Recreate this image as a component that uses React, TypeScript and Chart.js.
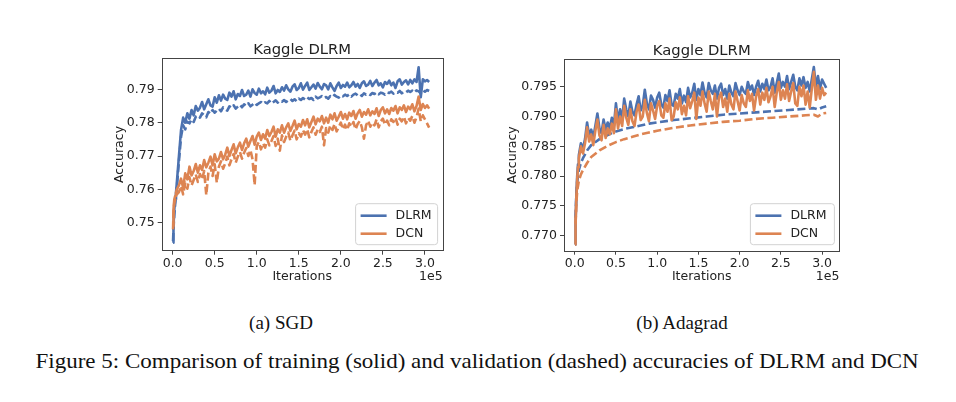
import { useEffect, useRef } from "react";
import { Chart, registerables } from "chart.js";
Chart.register(...registerables);

// Iterations, in units of 1e5
const X_DENSE = [
  0.005, 0.01, 0.02, 0.03, 0.04, 0.05,
  0.075, 0.1, 0.125, 0.15, 0.175, 0.2, 0.225, 0.25, 0.275, 0.3,
  0.325, 0.35, 0.375, 0.4, 0.425, 0.45, 0.475, 0.5, 0.525, 0.55,
  0.575, 0.6, 0.625, 0.65, 0.675, 0.7, 0.725, 0.75, 0.775, 0.8,
  0.825, 0.85, 0.875, 0.9, 0.925, 0.95, 0.975, 1.0, 1.025, 1.05,
  1.075, 1.1, 1.125, 1.15, 1.175, 1.2, 1.225, 1.25, 1.275, 1.3,
  1.325, 1.35, 1.375, 1.4, 1.425, 1.45, 1.475, 1.5, 1.525, 1.55,
  1.575, 1.6, 1.625, 1.65, 1.675, 1.7, 1.725, 1.75, 1.775, 1.8,
  1.825, 1.85, 1.875, 1.9, 1.925, 1.95, 1.975, 2.0, 2.025, 2.05,
  2.075, 2.1, 2.125, 2.15, 2.175, 2.2, 2.225, 2.25, 2.275, 2.3,
  2.325, 2.35, 2.375, 2.4, 2.425, 2.45, 2.475, 2.5, 2.525, 2.55,
  2.575, 2.6, 2.625, 2.65, 2.675, 2.7, 2.725, 2.75, 2.775, 2.8,
  2.825, 2.85, 2.875, 2.9, 2.925, 2.95, 2.975, 3.0, 3.025, 3.05,
];
const X_SPARSE = [
  0.01, 0.02, 0.03, 0.05, 0.075, 0.1, 0.15, 0.2, 0.3, 0.4, 0.5, 0.6, 0.7, 0.8, 0.9, 1.0,
  1.2, 1.4, 1.6, 1.8, 2.0, 2.2, 2.4, 2.6, 2.8, 2.9, 2.95, 3.0, 3.05,
];

// (a) SGD
const SGD_DLRM_TRAIN = [
  0.7440, 0.7490, 0.7540, 0.7570, 0.7590, 0.7620,
  0.7700, 0.7778, 0.7815, 0.7800, 0.7828, 0.7812, 0.7838, 0.7822, 0.7850, 0.7836,
  0.7845, 0.7862, 0.7840, 0.7855, 0.7870, 0.7852, 0.7848, 0.7876, 0.7860, 0.7882,
  0.7866, 0.7884, 0.7872, 0.7868, 0.7890, 0.7878, 0.7894, 0.7870, 0.7886, 0.7880,
  0.7898, 0.7880, 0.7884, 0.7896, 0.7878, 0.7900, 0.7889, 0.7884, 0.7902, 0.7888,
  0.7894, 0.7885, 0.7905, 0.7890, 0.7896, 0.7910, 0.7888, 0.7898, 0.7892, 0.7906,
  0.7896, 0.7912, 0.7900, 0.7893, 0.7908, 0.7915, 0.7898, 0.7904, 0.7918, 0.7899,
  0.7910, 0.7920, 0.7898, 0.7906, 0.7914, 0.7902, 0.7919, 0.7908, 0.7900, 0.7916,
  0.7912, 0.7900, 0.7918, 0.7906, 0.7895, 0.7910, 0.7920, 0.7904, 0.7913, 0.7908,
  0.7920, 0.7906, 0.7912, 0.7922, 0.7908, 0.7916, 0.7904, 0.7918, 0.7924, 0.7910,
  0.7914, 0.7925, 0.7910, 0.7920, 0.7928, 0.7912, 0.7918, 0.7906, 0.7922, 0.7916,
  0.7926, 0.7912, 0.7920, 0.7904, 0.7924, 0.7930, 0.7914, 0.7922, 0.7927, 0.7915,
  0.7928, 0.7918, 0.7930, 0.7922, 0.7966, 0.7876, 0.7930, 0.7924, 0.7928, 0.7922,
];
const SGD_DLRM_VAL = [
  0.7445, 0.7480, 0.7525, 0.7555, 0.7580, 0.7605,
  0.7685, 0.7758, 0.7792, 0.7780, 0.7803, 0.7798, 0.7810, 0.7802, 0.7818, 0.7822,
  0.7815, 0.7828, 0.7822, 0.7816, 0.7832, 0.7826, 0.7838, 0.7830, 0.7836, 0.7842,
  0.7834, 0.7846, 0.7840, 0.7836, 0.7849, 0.7844, 0.7852, 0.7842, 0.7848, 0.7854,
  0.7846, 0.7855, 0.7850, 0.7858, 0.7849, 0.7854, 0.7860, 0.7853, 0.7858, 0.7862,
  0.7856, 0.7861, 0.7858, 0.7865, 0.7857, 0.7862, 0.7867, 0.7860, 0.7866, 0.7863,
  0.7868, 0.7862, 0.7867, 0.7871, 0.7865, 0.7870, 0.7864, 0.7872, 0.7868, 0.7874,
  0.7869, 0.7876, 0.7871, 0.7874, 0.7868, 0.7878, 0.7873, 0.7876, 0.7880, 0.7874,
  0.7877, 0.7872, 0.7880, 0.7876, 0.7883, 0.7878, 0.7875, 0.7882, 0.7879, 0.7884,
  0.7880, 0.7885, 0.7878, 0.7884, 0.7887, 0.7882, 0.7886, 0.7880, 0.7888, 0.7884,
  0.7887, 0.7883, 0.7889, 0.7886, 0.7891, 0.7885, 0.7890, 0.7888, 0.7884, 0.7891,
  0.7889, 0.7893, 0.7887, 0.7892, 0.7890, 0.7895, 0.7888, 0.7893, 0.7891, 0.7896,
  0.7892, 0.7896, 0.7890, 0.7897, 0.7894, 0.7888, 0.7897, 0.7893, 0.7898, 0.7895,
];
const SGD_DCN_TRAIN = [
  0.7490, 0.7540, 0.7570, 0.7580, 0.7590, 0.7600,
  0.7612, 0.7632, 0.7605, 0.7648, 0.7630, 0.7668, 0.7642, 0.7655, 0.7676, 0.7650,
  0.7672, 0.7658, 0.7688, 0.7666, 0.7680, 0.7698, 0.7672, 0.7705, 0.7684, 0.7692,
  0.7712, 0.7690, 0.7704, 0.7725, 0.7700, 0.7718, 0.7735, 0.7708, 0.7726, 0.7740,
  0.7718, 0.7738, 0.7752, 0.7728, 0.7745, 0.7760, 0.7734, 0.7758, 0.7770, 0.7748,
  0.7765, 0.7752, 0.7778, 0.7760, 0.7772, 0.7788, 0.7758, 0.7780, 0.7770, 0.7792,
  0.7770, 0.7786, 0.7798, 0.7775, 0.7790, 0.7806, 0.7780, 0.7796, 0.7788, 0.7808,
  0.7792, 0.7810, 0.7786, 0.7802, 0.7818, 0.7795, 0.7812, 0.7804, 0.7820, 0.7798,
  0.7815, 0.7800, 0.7824, 0.7810, 0.7828, 0.7806, 0.7818, 0.7832, 0.7812, 0.7826,
  0.7810, 0.7830, 0.7820, 0.7835, 0.7812, 0.7828, 0.7838, 0.7818, 0.7832, 0.7824,
  0.7840, 0.7822, 0.7834, 0.7826, 0.7843, 0.7820, 0.7838, 0.7846, 0.7828, 0.7840,
  0.7826, 0.7844, 0.7836, 0.7850, 0.7828, 0.7846, 0.7838, 0.7852, 0.7832, 0.7848,
  0.7840, 0.7855, 0.7834, 0.7850, 0.7878, 0.7838, 0.7856, 0.7844, 0.7852, 0.7842,
];
const SGD_DCN_VAL = [
  0.7480, 0.7530, 0.7560, 0.7570, 0.7575, 0.7585,
  0.7592, 0.7610, 0.7585, 0.7620, 0.7602, 0.7636, 0.7612, 0.7628, 0.7645, 0.7622,
  0.7646, 0.7630, 0.7655, 0.7583, 0.7650, 0.7668, 0.7640, 0.7675, 0.7620, 0.7668,
  0.7684, 0.7662, 0.7678, 0.7698, 0.7672, 0.7690, 0.7706, 0.7680, 0.7698, 0.7712,
  0.7692, 0.7710, 0.7724, 0.7700, 0.7718, 0.7690, 0.7613, 0.7730, 0.7742, 0.7720,
  0.7738, 0.7725, 0.7750, 0.7732, 0.7745, 0.7760, 0.7730, 0.7752, 0.7716, 0.7762,
  0.7742, 0.7758, 0.7770, 0.7746, 0.7762, 0.7776, 0.7750, 0.7768, 0.7758, 0.7778,
  0.7764, 0.7780, 0.7756, 0.7772, 0.7786, 0.7764, 0.7780, 0.7772, 0.7788, 0.7732,
  0.7784, 0.7770, 0.7792, 0.7778, 0.7796, 0.7774, 0.7786, 0.7800, 0.7780, 0.7794,
  0.7778, 0.7798, 0.7788, 0.7802, 0.7780, 0.7796, 0.7805, 0.7786, 0.7752, 0.7792,
  0.7806, 0.7788, 0.7800, 0.7792, 0.7810, 0.7786, 0.7804, 0.7812, 0.7794, 0.7806,
  0.7792, 0.7810, 0.7802, 0.7815, 0.7794, 0.7812, 0.7804, 0.7818, 0.7798, 0.7814,
  0.7806, 0.7820, 0.7800, 0.7816, 0.7842, 0.7804, 0.7822, 0.7810, 0.7798, 0.7785,
];

// (b) Adagrad
const ADA_DLRM_TRAIN = [
  0.7685, 0.7720, 0.7770, 0.7800, 0.7820, 0.7835,
  0.7855, 0.7846, 0.7862, 0.7890, 0.7868, 0.7878, 0.7865, 0.7884, 0.7905, 0.7880,
  0.7872, 0.7895, 0.7878, 0.7890, 0.7880, 0.7898, 0.7884, 0.7922, 0.7892, 0.7912,
  0.7895, 0.7930, 0.7912, 0.7900, 0.7925, 0.7908, 0.7902, 0.7920, 0.7934, 0.7910,
  0.7918, 0.7945, 0.7922, 0.7912, 0.7935, 0.7928, 0.7915, 0.7932, 0.7940, 0.7920,
  0.7915, 0.7936, 0.7926, 0.7944, 0.7920, 0.7918, 0.7938, 0.7930, 0.7946, 0.7922,
  0.7935, 0.7924, 0.7948, 0.7932, 0.7940, 0.7955, 0.7928, 0.7946, 0.7936, 0.7957,
  0.7940, 0.7932, 0.7956, 0.7944, 0.7938, 0.7952, 0.7930, 0.7948, 0.7955, 0.7936,
  0.7946, 0.7930, 0.7952, 0.7940, 0.7934, 0.7956, 0.7944, 0.7936, 0.7950, 0.7942,
  0.7938, 0.7958, 0.7945, 0.7952, 0.7936, 0.7950, 0.7960, 0.7942, 0.7955, 0.7946,
  0.7962, 0.7944, 0.7950, 0.7964, 0.7940, 0.7956, 0.7972, 0.7948, 0.7958, 0.7950,
  0.7968, 0.7946, 0.7958, 0.7970, 0.7950, 0.7944, 0.7964, 0.7952, 0.7966, 0.7948,
  0.7958, 0.7942, 0.7962, 0.7983, 0.7950, 0.7968, 0.7946, 0.7962, 0.7955, 0.7948,
];
const ADA_DCN_TRAIN = [
  0.7685, 0.7715, 0.7765, 0.7795, 0.7815, 0.7830,
  0.7850, 0.7838, 0.7855, 0.7882, 0.7858, 0.7870, 0.7852, 0.7876, 0.7895, 0.7868,
  0.7860, 0.7886, 0.7864, 0.7880, 0.7870, 0.7888, 0.7872, 0.7912, 0.7880, 0.7900,
  0.7884, 0.7918, 0.7898, 0.7886, 0.7912, 0.7892, 0.7884, 0.7908, 0.7920, 0.7894,
  0.7900, 0.7928, 0.7906, 0.7892, 0.7922, 0.7910, 0.7896, 0.7918, 0.7926, 0.7902,
  0.7898, 0.7922, 0.7908, 0.7930, 0.7894, 0.7900, 0.7924, 0.7912, 0.7932, 0.7904,
  0.7918, 0.7902, 0.7934, 0.7914, 0.7926, 0.7940, 0.7896, 0.7932, 0.7918, 0.7942,
  0.7922, 0.7908, 0.7942, 0.7926, 0.7912, 0.7938, 0.7900, 0.7932, 0.7940, 0.7916,
  0.7930, 0.7908, 0.7938, 0.7920, 0.7912, 0.7942, 0.7926, 0.7910, 0.7936, 0.7922,
  0.7916, 0.7944, 0.7926, 0.7938, 0.7910, 0.7934, 0.7946, 0.7920, 0.7940, 0.7928,
  0.7948, 0.7924, 0.7934, 0.7950, 0.7916, 0.7940, 0.7958, 0.7928, 0.7944, 0.7930,
  0.7954, 0.7926, 0.7942, 0.7956, 0.7922, 0.7918, 0.7950, 0.7934, 0.7952, 0.7920,
  0.7942, 0.7915, 0.7946, 0.7975, 0.7928, 0.7952, 0.7930, 0.7948, 0.7936, 0.7940,
];
const ADA_DLRM_VAL = [
  0.7730, 0.7770, 0.7790, 0.7810, 0.7822, 0.7830, 0.7843, 0.7852, 0.7862, 0.7869,
  0.7875, 0.7879, 0.7882, 0.7885, 0.7888, 0.7890, 0.7894, 0.7897, 0.7900, 0.7903,
  0.7905, 0.7907, 0.7909, 0.7911, 0.7913, 0.7914, 0.7912, 0.7915, 0.7917,
];
const ADA_DCN_VAL = [
  0.7720, 0.7755, 0.7775, 0.7792, 0.7803, 0.7810, 0.7822, 0.7832, 0.7843, 0.7851,
  0.7857, 0.7862, 0.7866, 0.7870, 0.7873, 0.7876, 0.7881, 0.7885, 0.7888, 0.7891,
  0.7893, 0.7896, 0.7898, 0.7900, 0.7902, 0.7903, 0.7900, 0.7905, 0.7906,
];

const SERIES_NAMES = ["DLRM", "DCN"];
const PLOT_TITLE = "Kaggle DLRM";
const X_LABEL = "Iterations";
const X_OFFSET_LABEL = "1e5";
const Y_LABEL = "Accuracy";
const X_TICKS = [0, 0.5, 1.0, 1.5, 2.0, 2.5, 3.0];
const SGD_Y_TICKS = [0.75, 0.76, 0.77, 0.78, 0.79];
const ADA_Y_TICKS = [0.77, 0.775, 0.78, 0.785, 0.79, 0.795];
const SUB_CAPTIONS = ["(a) SGD", "(b) Adagrad"];
const FIG_CAPTION =
  "Figure 5: Comparison of training (solid) and validation (dashed) accuracies of DLRM and DCN";

const BLUE = "#4C72B0";
const ORANGE = "#DD8452";
const TEXT = "#222222";
const FONT = "DejaVu Sans";

function pts(xs: number[], ys: number[]) {
  const out: { x: number; y: number }[] = [];
  for (let i = 0; i < Math.min(xs.length, ys.length); i++) out.push({ x: xs[i], y: ys[i] });
  return out;
}

const decor = {
  id: "decor",
  afterDatasetsDraw(chart: any, _args: any, opts: any) {
    const { ctx, chartArea: a } = chart;
    ctx.save();
    ctx.strokeStyle = "#444";
    ctx.lineWidth = 1;
    ctx.strokeRect(Math.round(a.left) + 0.5, Math.round(a.top) + 0.5, Math.round(a.right - a.left), Math.round(a.bottom - a.top));
    ctx.fillStyle = TEXT;
    ctx.font = `14.8px "${FONT}"`;
    ctx.textAlign = "center";
    ctx.textBaseline = "alphabetic";
    ctx.fillText(PLOT_TITLE, (a.left + a.right) / 2, a.top - 4.5);
    ctx.font = `12.5px "${FONT}"`;
    ctx.textBaseline = "middle";
    ctx.fillText(X_LABEL, (a.left + a.right) / 2, a.bottom + 26);
    ctx.textAlign = "right";
    ctx.fillText(X_OFFSET_LABEL, a.right, a.bottom + 26);
    ctx.save();
    ctx.translate(a.left - opts.yLabelGap, (a.top + a.bottom) / 2);
    ctx.rotate(-Math.PI / 2);
    ctx.textAlign = "center";
    ctx.fillText(Y_LABEL, 0, 0);
    ctx.restore();
    const w = opts.legendW, h = 41;
    const lx = a.right - 5 - w, ly = a.bottom - 6 - h;
    ctx.beginPath();
    const r = 3;
    ctx.moveTo(lx + r, ly);
    ctx.arcTo(lx + w, ly, lx + w, ly + h, r);
    ctx.arcTo(lx + w, ly + h, lx, ly + h, r);
    ctx.arcTo(lx, ly + h, lx, ly, r);
    ctx.arcTo(lx, ly, lx + w, ly, r);
    ctx.closePath();
    ctx.fillStyle = "rgba(255,255,255,0.85)";
    ctx.fill();
    ctx.strokeStyle = "#d2d2d2";
    ctx.stroke();
    const colors = [BLUE, ORANGE];
    SERIES_NAMES.forEach((name, i) => {
      const yy = ly + 12 + i * 18;
      ctx.beginPath();
      ctx.strokeStyle = colors[i];
      ctx.lineWidth = 2.6;
      ctx.moveTo(lx + 5, yy);
      ctx.lineTo(lx + 31, yy);
      ctx.stroke();
      ctx.fillStyle = TEXT;
      ctx.textAlign = "left";
      ctx.textBaseline = "middle";
      ctx.font = `12.5px "${FONT}"`;
      ctx.fillText(name, lx + 40, yy);
    });
    ctx.restore();
  },
};

function makeConfig(opts: any): any {
  const tickFont = { family: FONT, size: 12.5 };
  const line = (data: any, color: string, dashed: boolean, order: number) => ({
    data,
    borderColor: color,
    backgroundColor: color,
    borderWidth: 2.6,
    borderDash: dashed ? [8, 3.5] : [],
    borderJoinStyle: "round",
    pointRadius: 0,
    tension: 0,
    fill: false,
    order,
  });
  return {
    type: "line",
    data: {
      datasets: [
        line(opts.trainOrange, ORANGE, false, 0),
        line(opts.valOrange, ORANGE, true, 1),
        line(opts.trainBlue, BLUE, false, 2),
        line(opts.valBlue, BLUE, true, 3),
      ],
    },
    options: {
      responsive: false,
      animation: false,
      devicePixelRatio: 1,
      layout: { autoPadding: false, padding: { left: 0, right: opts.padRight, top: opts.padTop, bottom: 0 } },
      plugins: { legend: { display: false }, tooltip: { enabled: false }, title: { display: false }, decor: { yLabelGap: opts.yLabelGap, legendW: opts.legendW } },
      scales: {
        x: {
          type: "linear",
          min: -0.13,
          max: 3.21,
          afterBuildTicks: (s: any) => { s.ticks = X_TICKS.map((v) => ({ value: v })); },
          afterFit: (s: any) => { s.height = opts.xHeight; },
          ticks: { callback: (v: any) => Number(v).toFixed(1), font: tickFont, color: TEXT, padding: 2, maxRotation: 0, autoSkip: false },
          grid: { display: true, drawOnChartArea: false, drawTicks: true, tickLength: 4, color: "#444", lineWidth: 1 },
          border: { display: false },
        },
        y: {
          type: "linear",
          min: opts.yMin,
          max: opts.yMax,
          afterBuildTicks: (s: any) => { s.ticks = opts.yTicks.map((v: number) => ({ value: v })); },
          afterFit: (s: any) => { s.width = opts.yWidth; },
          ticks: { callback: (v: any) => Number(v).toFixed(opts.yDigits), font: tickFont, color: TEXT, padding: 3, autoSkip: false },
          grid: { display: true, drawOnChartArea: false, drawTicks: true, tickLength: 4, color: "#444", lineWidth: 1 },
          border: { display: false },
        },
      },
    },
    plugins: [decor],
  };
}

export default function App() {
  const leftRef = useRef<HTMLCanvasElement>(null);
  const rightRef = useRef<HTMLCanvasElement>(null);

  useEffect(() => {
    const left = new Chart(
      leftRef.current as HTMLCanvasElement,
      makeConfig({
        trainBlue: pts(X_DENSE, SGD_DLRM_TRAIN),
        valBlue: pts(X_DENSE, SGD_DLRM_VAL),
        trainOrange: pts(X_DENSE, SGD_DCN_TRAIN),
        valOrange: pts(X_DENSE, SGD_DCN_VAL),
        yMin: 0.7416,
        yMax: 0.7993,
        yTicks: SGD_Y_TICKS,
        yDigits: 2,
        yWidth: 61.7,
        xHeight: 44.3,
        padTop: 28.3,
        padRight: 17.4,
        yLabelGap: 41.7,
        legendW: 82,
      })
    );
    const right = new Chart(
      rightRef.current as HTMLCanvasElement,
      makeConfig({
        trainBlue: pts(X_DENSE, ADA_DLRM_TRAIN),
        valBlue: pts(X_SPARSE, ADA_DLRM_VAL),
        trainOrange: pts(X_DENSE, ADA_DCN_TRAIN),
        valOrange: pts(X_SPARSE, ADA_DCN_VAL),
        yMin: 0.76748,
        yMax: 0.79965,
        yTicks: ADA_Y_TICKS,
        yDigits: 3,
        yWidth: 84,
        xHeight: 44.3,
        padTop: 29,
        padRight: 20.6,
        yLabelGap: 51,
        legendW: 84,
      })
    );
    return () => {
      left.destroy();
      right.destroy();
    };
  }, []);

  const serif = '"Liberation Serif", "Times New Roman", serif';
  return (
    <div style={{ position: "absolute", left: 0, top: 0, width: 956, height: 402, background: "#fff", overflow: "hidden" }}>
      <canvas ref={leftRef} width={360} height={265} style={{ position: "absolute", left: 100, top: 30, width: 360, height: 265, display: "block" }} />
      <canvas ref={rightRef} width={380} height={265} style={{ position: "absolute", left: 480, top: 30, width: 380, height: 265, display: "block" }} />
      <div style={{ position: "absolute", left: 181, top: 313, width: 200, textAlign: "center", fontFamily: serif, fontSize: 19, lineHeight: "20px", color: "#111" }}>{SUB_CAPTIONS[0]}</div>
      <div style={{ position: "absolute", left: 582, top: 313, width: 200, textAlign: "center", fontFamily: serif, fontSize: 19, lineHeight: "20px", color: "#111" }}>{SUB_CAPTIONS[1]}</div>
      <div style={{ position: "absolute", left: 0, top: 350, width: 956, textAlign: "center", fontFamily: serif, fontSize: 21, lineHeight: "22px", color: "#111", whiteSpace: "nowrap", transform: "translateX(-1px) scaleX(1.095)", transformOrigin: "477px 50%" }}>{FIG_CAPTION}</div>
    </div>
  );
}
